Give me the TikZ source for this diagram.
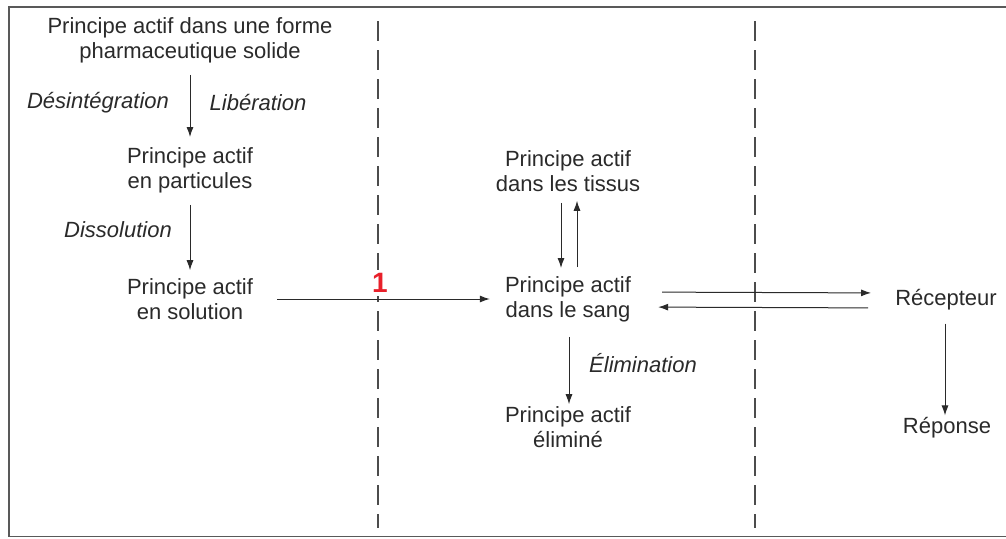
\documentclass[tikz,border=0pt]{standalone}
\usepackage{fontspec}
\setmainfont{Liberation Sans}
\usetikzlibrary{arrows.meta}
\definecolor{ink}{HTML}{2A2A2A}
\definecolor{redone}{HTML}{E8202A}
\begin{document}
\begin{tikzpicture}[x=1pt,y=-1pt,
  txt/.style={inner sep=0pt, align=center, text=ink, font=\fontsize{22}{25}\selectfont},
  lbl/.style={inner sep=0pt, text=ink, font=\fontsize{22}{25}\selectfont\itshape},
  arr/.style={draw=ink, line width=1pt, -{Latex[length=10pt,width=7pt]}},
  sep/.style={draw=black!70, line width=1.3pt, dash pattern=on 20pt off 9pt},
  frame/.style={draw=black!65, line width=1.3pt}]
\useasboundingbox (0,0) rectangle (1006,538);
\fill[white] (0,0) rectangle (1006,538);
\draw[frame] (1006,7) -- (9,7) -- (9,536.5) -- (1006,536.5);
% separators
\coordinate (d1t) at (378,21);
\coordinate (d1b) at (378,528);
\coordinate (d2t) at (755,21);
\coordinate (d2b) at (755,528);
\draw[sep] (d1t) -- (d1b);
\draw[sep] (d2t) -- (d2b);
% nodes
\node[txt] (solid) at (190,40.5) {Principe actif dans une forme\\pharmaceutique solide};
\node[txt] (part) at (190,170.5) {Principe actif\\en particules};
\node[txt] (sol) at (190,299) {Principe actif\\en solution};
\node[txt] (tissus) at (568,171.5) {Principe actif\\dans les tissus};
\node[txt] (sang) at (568,299) {Principe actif\\dans le sang};
\node[txt] (elim) at (568,427.5) {Principe actif\\éliminé};
\node[txt] (rec) at (946,300) {Récepteur};
\node[txt] (rep) at (947,428) {Réponse};
% labels
\node[lbl] (ldes) at (98,103) {Désintégration};
\node[lbl] (llib) at (258,103) {Libération};
\node[lbl] (ldis) at (118,230) {Dissolution};
\node[lbl] (lelim) at (643,363) {Élimination};
\node[inner sep=3pt, fill=white, text=redone, font=\fontsize{28}{28}\selectfont\bfseries] (one) at (380,283) {1};
% arrows
\draw[arr, shorten <=11.5pt, shorten >=10.5pt] (solid.south) -- (part.north);
\draw[arr, shorten <=11.5pt, shorten >=8pt] (part.south) -- (sol.north);
\draw[arr, shorten <=24pt, shorten >=15pt] (sol.east) -- (sang.west);
\draw[arr, shorten <=10.5pt, shorten >=8pt] ([xshift=-7pt]tissus.south) -- ([xshift=-7pt]sang.north);
\draw[arr, shorten <=9pt, shorten >=8.5pt] ([xshift=9pt]sang.north) -- ([xshift=9pt]tissus.south);
\draw[arr, shorten <=15pt, shorten >=2.5pt] ([xshift=1pt]sang.south) -- ([xshift=1pt]elim.north);
\draw[arr, shorten <=31pt, shorten >=24pt] ([yshift=7pt]sang.east) -- ([yshift=7pt]rec.west);
\draw[arr, shorten <=27pt, shorten >=27pt] ([yshift=-8pt]rec.west) -- ([yshift=-8pt]sang.east);
\draw[arr, shorten <=13pt, shorten >=2pt] ([xshift=-1pt]rec.south) -- ([xshift=-2pt]rep.north);
\end{tikzpicture}
\end{document}
